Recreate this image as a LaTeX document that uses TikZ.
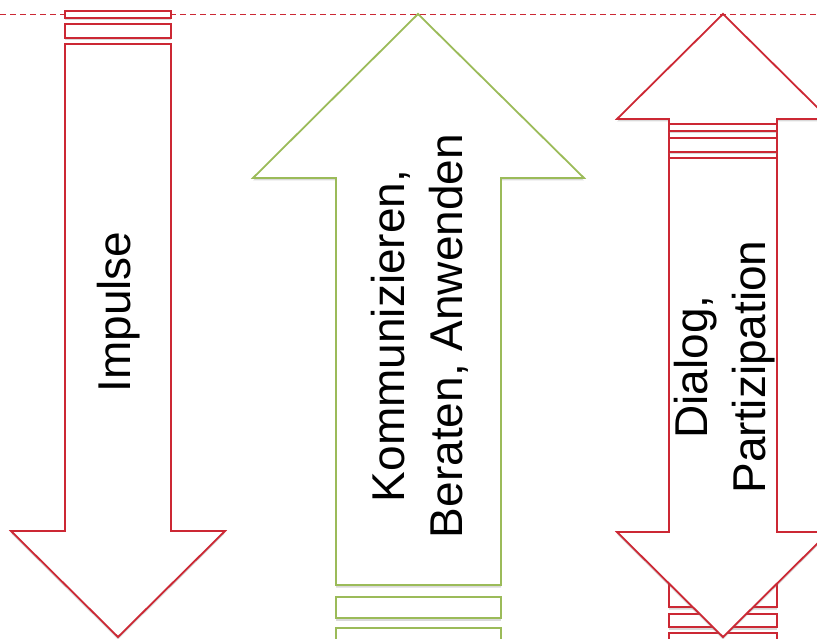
\documentclass[tikz,border=0pt]{standalone}
\usepackage{fontspec}
\setmainfont{Liberation Sans}
\usetikzlibrary{shadows}
\definecolor{arrred}{RGB}{204,40,52}
\definecolor{arrgreen}{RGB}{155,187,89}
\tikzset{
  redshape/.style={draw=arrred, line width=1.8pt, fill=white, line join=miter,
    drop shadow={opacity=0.3, shadow xshift=0pt, shadow yshift=-2.5pt}},
  greenshape/.style={draw=arrgreen, line width=1.8pt, fill=white, line join=miter,
    drop shadow={opacity=0.3, shadow xshift=0pt, shadow yshift=-2.5pt}},
  guide/.style={draw=arrred, line width=1.5pt, dash pattern=on 6pt off 4pt},
  lbl/.style={rotate=90, align=center, font=\fontsize{46}{58}\selectfont, text=black, inner sep=0pt}
}
\begin{document}
\begin{tikzpicture}[x=1pt,y=-1pt]
\useasboundingbox (0,0) rectangle (817,639);
% dashed guide line
\coordinate (gl) at (0,14.5);
\coordinate (gr) at (817,14.5);
\draw[guide] (gl) -- (gr);
% left down arrow (Impulse)
\draw[redshape] (65,11) rectangle (171,18);
\draw[redshape] (65,24) rectangle (171,38);
\draw[redshape] (65,44) -- (171,44) -- (171,531) -- (225,531) -- (118,637) -- (11,531) -- (65,531) -- cycle;
% middle up arrow (green)
\draw[greenshape] (336,597) rectangle (501,618);
\draw[greenshape] (336,628) rectangle (501,648);
\draw[greenshape] (418,14) -- (584,178) -- (501,178) -- (501,585) -- (336,585) -- (336,178) -- (253,178) -- cycle;
% right arrow: up part (behind)
\draw[redshape] (669,614) rectangle (777,627);
\draw[redshape] (669,633) rectangle (777,648);
\draw[redshape] (723,14) -- (829,119) -- (777,119) -- (777,607) -- (669,607) -- (669,119) -- (617,119) -- cycle;
% right arrow: down part (front)
\draw[redshape] (669,124) rectangle (777,131);
\draw[redshape] (669,138) rectangle (777,152);
\draw[redshape] (669,158) -- (777,158) -- (777,532) -- (829,532) -- (723,637) -- (617,532) -- (669,532) -- cycle;
% labels
\node[lbl] (impulse) at (119,312) {Impulse};
\node[lbl] (komm) at (420,336) {Kommunizieren,\\Beraten, Anwenden};
\node[lbl] (dialog) at (725,367) {Dialog,\\Partizipation};
\end{tikzpicture}
\end{document}
